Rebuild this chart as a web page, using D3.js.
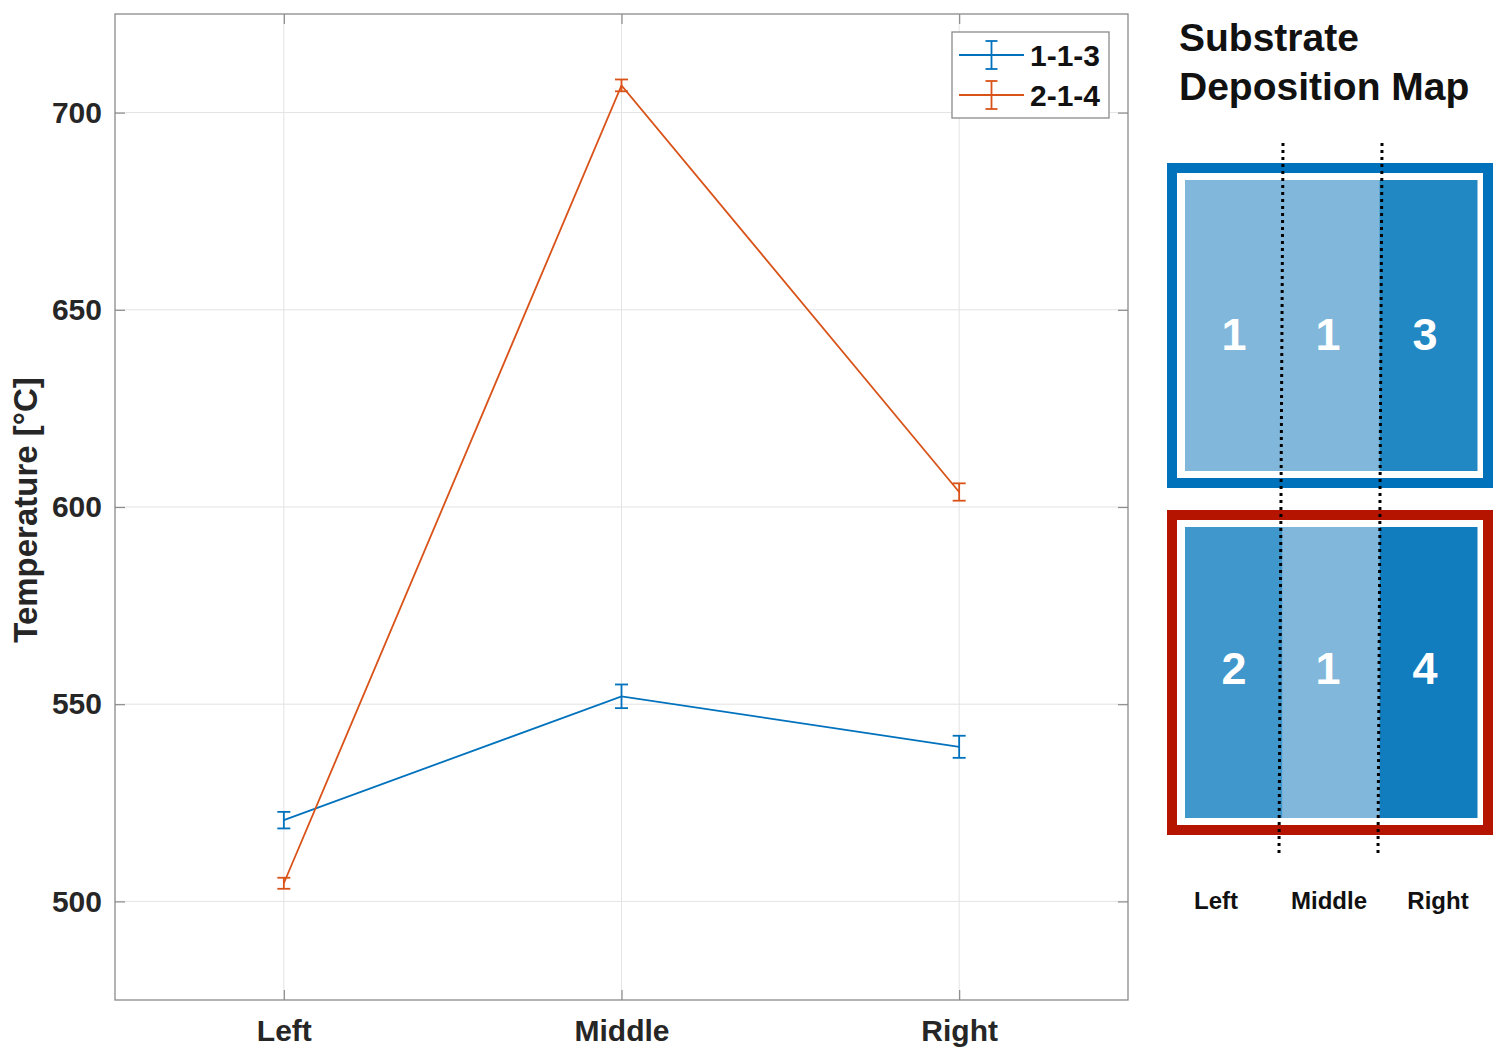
<!DOCTYPE html>
<html><head><meta charset="utf-8">
<script src="https://cdn.jsdelivr.net/npm/d3@7"></script>
<style>body{margin:0;background:#fff}svg{display:block}</style>
</head><body>
<script>
const categories = ["Left", "Middle", "Right"];
const seriesNames = ["1-1-3", "2-1-4"];
const series113 = [520.6, 552.0, 539.2];
const err113 = [2.1, 3.0, 2.8];
const series214 = [504.6, 706.9, 603.8];
const err214 = [1.4, 1.5, 2.2];
const yTicks = [500, 550, 600, 650, 700];
const mapTop = [1, 1, 3];
const mapBottom = [2, 1, 4];
const mapTopColors = ["#80b7da", "#80b7da", "#2288c4"];
const mapBottomColors = ["#3f97cb", "#80b7da", "#127dbe"];

const W = 1510, H = 1062;
const svg = d3.select("body").append("svg").attr("width", W).attr("height", H);
const font = "'Liberation Sans', Arial, Helvetica, sans-serif";

const L = 115, R = 1128, T = 14, B = 1000;
const x = d3.scaleLinear().domain([0.5, 3.5]).range([L, R]);
const y = d3.scaleLinear().domain([475, 725]).range([B, T]);

// grid
const g = svg.append("g");
g.selectAll(".gx").data(categories).enter().append("line")
  .attr("x1", (d,i)=>x(i+1)).attr("x2", (d,i)=>x(i+1)).attr("y1", T).attr("y2", B)
  .attr("stroke", "#e3e3e3").attr("stroke-width", 1);
g.selectAll(".gy").data(yTicks).enter().append("line")
  .attr("x1", L).attr("x2", R).attr("y1", d=>y(d)).attr("y2", d=>y(d))
  .attr("stroke", "#e3e3e3").attr("stroke-width", 1);

// axes with inward ticks
const axL = d3.axisLeft(y).tickValues(yTicks).tickSize(-10).tickPadding(13);
const axR = d3.axisRight(y).tickValues(yTicks).tickSize(-10).tickFormat("");
const axB = d3.axisBottom(x).tickValues([1,2,3]).tickSize(-10).tickPadding(20).tickFormat((d)=>categories[d-1]);
const axT = d3.axisTop(x).tickValues([1,2,3]).tickSize(-10).tickFormat("");
function style(sel){
  sel.select(".domain").remove();
  sel.selectAll(".tick line").attr("stroke", "#8a8a8a").attr("stroke-width", 1.2);
  sel.selectAll("text").attr("font-family", font).attr("font-size", 30).attr("font-weight", "bold").attr("fill", "#262626");
}
svg.append("g").attr("transform", `translate(${L},0)`).call(axL).call(style);
svg.append("g").attr("transform", `translate(${R},0)`).call(axR).call(style);
svg.append("g").attr("transform", `translate(0,${B})`).call(axB).call(style);
svg.append("g").attr("transform", `translate(0,${T})`).call(axT).call(style);
svg.append("rect").attr("x", L).attr("y", T).attr("width", R-L).attr("height", B-T)
  .attr("fill", "none").attr("stroke", "#8a8a8a").attr("stroke-width", 1.3);

svg.append("text").attr("transform", `translate(37,510) rotate(-90)`)
  .attr("text-anchor", "middle").attr("font-family", font).attr("font-size", 33)
  .attr("font-weight", "bold").attr("fill", "#262626").text("Temperature [°C]");

// series
const data = [
  {name: seriesNames[0], vals: series113, errs: err113, color: "#0072BD"},
  {name: seriesNames[1], vals: series214, errs: err214, color: "#D95319"}
];
const line = d3.line().x((d,i)=>x(i+1)).y(d=>y(d));
const capW = 6.5;
data.forEach(s => {
  svg.append("path").attr("d", line(s.vals)).attr("fill", "none")
    .attr("stroke", s.color).attr("stroke-width", 1.8);
  s.vals.forEach((v,i)=>{
    const cx = x(i+1), y1 = y(v + s.errs[i]), y2 = y(v - s.errs[i]);
    const eb = svg.append("g").attr("stroke", s.color).attr("stroke-width", 1.8);
    eb.append("line").attr("x1", cx).attr("x2", cx).attr("y1", y1).attr("y2", y2);
    eb.append("line").attr("x1", cx-capW).attr("x2", cx+capW).attr("y1", y1).attr("y2", y1);
    eb.append("line").attr("x1", cx-capW).attr("x2", cx+capW).attr("y1", y2).attr("y2", y2);
  });
});

// legend
const lg = svg.append("g");
lg.append("rect").attr("x", 952).attr("y", 32).attr("width", 157).attr("height", 86)
  .attr("fill", "#fff").attr("stroke", "#8a8a8a").attr("stroke-width", 1.3);
data.forEach((s,i)=>{
  const cy = 55 + i*40;
  const e = lg.append("g").attr("stroke", s.color).attr("stroke-width", 1.8);
  e.append("line").attr("x1", 959).attr("x2", 1024).attr("y1", cy).attr("y2", cy);
  e.append("line").attr("x1", 991.5).attr("x2", 991.5).attr("y1", cy-14).attr("y2", cy+14);
  e.append("line").attr("x1", 985.5).attr("x2", 997.5).attr("y1", cy-14).attr("y2", cy-14);
  e.append("line").attr("x1", 985.5).attr("x2", 997.5).attr("y1", cy+14).attr("y2", cy+14);
  lg.append("text").attr("x", 1030).attr("y", cy+11).attr("font-family", font)
    .attr("font-size", 30).attr("font-weight", "bold").attr("fill", "#111").text(s.name);
});

// substrate map
svg.append("text").attr("x", 1179).attr("y", 51).attr("font-family", font).attr("font-size", 39)
  .attr("font-weight", "bold").attr("fill", "#111").text("Substrate");
svg.append("text").attr("x", 1179).attr("y", 100).attr("font-family", font).attr("font-size", 39)
  .attr("font-weight", "bold").attr("fill", "#111").text("Deposition Map");

const mx = d3.scaleBand().domain(categories).range([1185, 1477]).padding(0);
const numX = [1234, 1328, 1425];
function drawBox(y0, y1, iy0, iy1, border, vals, colors, base){
  const bx = svg.append("g");
  bx.append("rect").attr("x", 1167+5).attr("y", y0+5).attr("width", 326-10).attr("height", (y1-y0)-10)
    .attr("fill", "#fff").attr("stroke", border).attr("stroke-width", 10);
  bx.selectAll(".c").data(categories).enter().append("rect")
    .attr("x", d=>mx(d)).attr("width", mx.bandwidth()+0.5).attr("y", iy0).attr("height", iy1-iy0)
    .attr("fill", (d,i)=>colors[i]);
  bx.selectAll(".n").data(categories).enter().append("text")
    .attr("x", (d,i)=>numX[i]).attr("y", base)
    .attr("text-anchor", "middle").attr("font-family", font).attr("font-size", 45)
    .attr("font-weight", "bold").attr("fill", "#fff").text((d,i)=>vals[i]);
}
drawBox(163, 488, 180, 471, "#0072bb", mapTop, mapTopColors, 350);
drawBox(510, 835, 527, 818, "#b51400", mapBottom, mapBottomColors, 684);

// dotted divider lines
[[1283,1279],[1382,1378]].forEach(p=>{
  svg.append("line").attr("x1", p[0]).attr("x2", p[1]).attr("y1", 143).attr("y2", 853)
    .attr("stroke", "#000").attr("stroke-width", 3).attr("stroke-dasharray", "3,4");
});

const labX = [1216, 1329, 1438];
svg.selectAll(".ml").data(categories).enter().append("text")
  .attr("x", (d,i)=>labX[i]).attr("y", 909).attr("text-anchor", "middle")
  .attr("font-family", font).attr("font-size", 24).attr("font-weight", "bold").attr("fill", "#111")
  .text(d=>d);
</script>
</body></html>
